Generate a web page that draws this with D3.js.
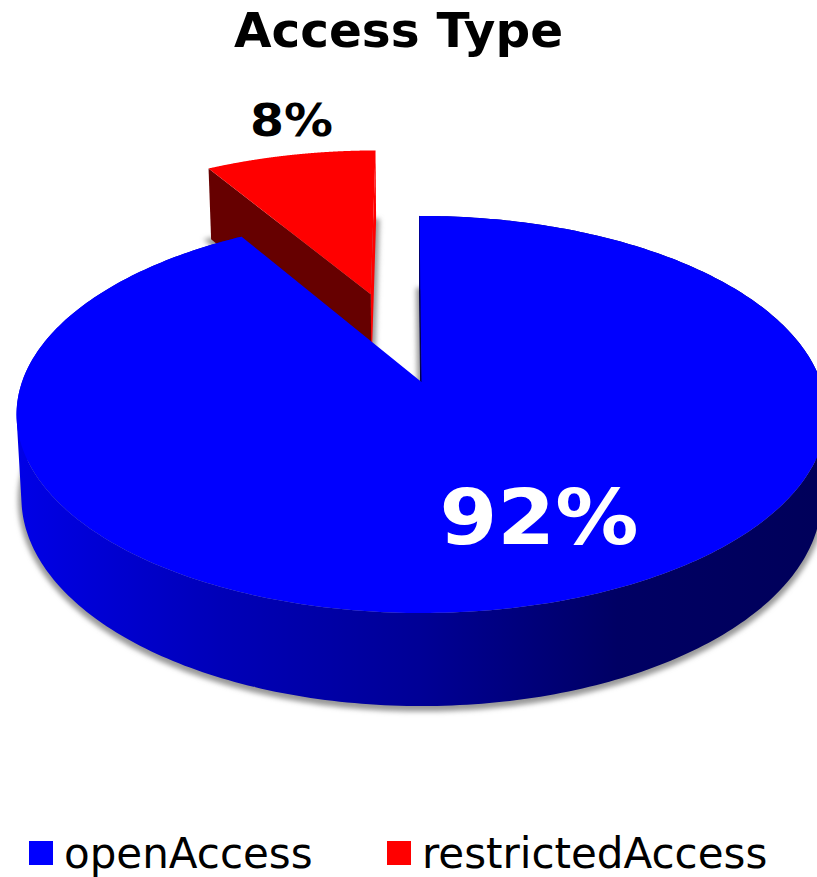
<!DOCTYPE html>
<html>
<head>
<meta charset="utf-8">
<title>Access Type</title>
<script src="https://cdn.jsdelivr.net/npm/d3@7"></script>
<style>
    html, body { margin: 0; padding: 0; background: #fff; overflow: hidden; }
    text { font-family: "DejaVu Sans", sans-serif; }
</style>
</head>
<body>
<div id="chart"></div>
<script>
const chartTitle = "Access Type";
const categories = ["openAccess", "restrictedAccess"];
const shares = [91.51, 8.49];
const sliceColors = ["#0000ff", "#ff0000"];

document.addEventListener("DOMContentLoaded", () => {
    renderPie3d();
});

function renderPie3d() {
    const width = 817;
    const height = 877;

    // perspective pie: the disc is tilted, so its near half is drawn larger
    const center = { x: 421.5, y: 382 };
    const radiusX = 399.5;
    const radiusY = 193.2;
    const tilt = 0.1637;
    const bottomScale = 0.988;
    const explode = 0.51;
    const rotation = -0.0058;

    const depthAt = (k) => 22.5 + 59 * k;

    const project = (px, py, bottom) => {
        const k = 1 / (1 - tilt * py);
        const s = bottom ? bottomScale : 1;
        return [
            center.x + radiusX * px * k * s,
            center.y + radiusY * py * k + (bottom ? depthAt(k) : 0)
        ];
    };

    const pie = d3.pie()
        .sort(null)
        .startAngle(rotation)
        .endAngle(2 * Math.PI + rotation);

    const slices = pie(shares).map((d, i) => {
        const mid = (d.startAngle + d.endAngle) / 2;
        const shift = i === 1 ? explode : 0;
        return {
            ...d,
            category: categories[i],
            color: sliceColors[i],
            ox: shift * Math.sin(mid),
            oy: -shift * Math.cos(mid)
        };
    });

    const rimPoints = (d, bottom) => d3.range(0, 361).map((j) => {
        const a = d.startAngle + (d.endAngle - d.startAngle) * j / 360;
        return project(d.ox + Math.sin(a), d.oy - Math.cos(a), bottom);
    });
    const apex = (d, bottom) => project(d.ox, d.oy, bottom);

    const line = d3.line();
    const sector = (d, bottom) => line([apex(d, bottom), ...rimPoints(d, bottom)]) + "Z";

    // one quad per rim step, all wound the same way so folds at the silhouette stay filled
    const outerWall = (d) => {
        const top = rimPoints(d, false);
        const low = rimPoints(d, true);
        return d3.range(0, top.length - 1).map((j) => {
            const quad = [top[j], top[j + 1], low[j + 1], low[j]];
            if (d3.polygonArea(quad) < 0) quad.reverse();
            return line(quad) + "Z";
        }).join("");
    };
    const edgeWall = (d, j) => {
        const rim = rimPoints(d, false);
        const rimLow = rimPoints(d, true);
        return line([apex(d, false), rim[j], rimLow[j], apex(d, true)]) + "Z";
    };

    const svg = d3.select("#chart").append("svg")
        .attr("width", width)
        .attr("height", height)
        .attr("viewBox", [0, 0, width, height])
        .style("display", "block");

    const defs = svg.append("defs");

    const blur = defs.append("filter")
        .attr("id", "soft-shadow")
        .attr("x", "-10%").attr("y", "-10%")
        .attr("width", "120%").attr("height", "120%");
    blur.append("feGaussianBlur").attr("stdDeviation", 2.5);

    const wallGradient = defs.append("linearGradient")
        .attr("id", "blue-wall")
        .attr("gradientUnits", "userSpaceOnUse")
        .attr("x1", 20).attr("x2", 817)
        .attr("y1", 0).attr("y2", 0);
    wallGradient.selectAll("stop")
        .data([
            ["0%", "#0000e6"],
            ["25%", "#0000b8"],
            ["50%", "#000096"],
            ["75%", "#000064"],
            ["100%", "#00005a"]
        ])
        .join("stop")
        .attr("offset", (d) => d[0])
        .attr("stop-color", (d) => d[1]);

    const blue = slices[0];
    const red = slices[1];

    // shadows sit behind everything
    svg.append("g")
        .attr("filter", "url(#soft-shadow)")
        .attr("transform", "translate(0, 2)")
        .selectAll("path")
        .data(slices)
        .join("path")
        .attr("fill", "#999")
        .attr("stroke", "#999")
        .attr("stroke-width", 7)
        .attr("d", (d) => sector(d, true));

    // red slice first, the big blue slice covers its lower part
    svg.append("path").attr("fill", "#ff0000").attr("d", edgeWall(red, 360));
    svg.append("path").attr("fill", "#660000").attr("d", edgeWall(red, 0));
    svg.append("path").attr("fill", red.color).attr("d", sector(red, false));

    svg.append("path").attr("fill", "#00004a").attr("d", edgeWall(blue, 0))
        .attr("stroke", "#00004a").attr("stroke-width", 1);
    svg.append("path").attr("fill", "url(#blue-wall)").attr("d", outerWall(blue));
    svg.append("path").attr("fill", blue.color).attr("d", sector(blue, false));

    svg.append("text")
        .attr("x", 398.5)
        .attr("y", 47)
        .attr("text-anchor", "middle")
        .attr("font-size", 48.5)
        .attr("font-weight", 700)
        .attr("fill", "#000")
        .text(chartTitle);

    const labelStyle = [
        { x: 539, y: 544, size: 76, span: 199, fill: "#fff" },
        { x: 291.5, y: 136, size: 45, span: 83, fill: "#000" }
    ];

    svg.append("g")
        .selectAll("text")
        .data(slices)
        .join("text")
        .attr("x", (d, i) => labelStyle[i].x)
        .attr("y", (d, i) => labelStyle[i].y)
        .attr("text-anchor", "middle")
        .attr("font-size", (d, i) => labelStyle[i].size)
        .attr("textLength", (d, i) => labelStyle[i].span)
        .attr("lengthAdjust", "spacingAndGlyphs")
        .attr("font-weight", 700)
        .attr("fill", (d, i) => labelStyle[i].fill)
        .text((d) => `${Math.round(d.data)}%`);

    const legendX = d3.scaleOrdinal().domain(categories).range([29, 387]);

    const legendItems = svg.append("g")
        .selectAll("g")
        .data(slices)
        .join("g")
        .attr("transform", (d) => `translate(${legendX(d.category)}, 841)`);

    legendItems.append("rect")
        .attr("width", 24)
        .attr("height", 24)
        .attr("fill", (d) => d.color);

    legendItems.append("text")
        .attr("x", 35)
        .attr("y", 27)
        .attr("font-size", 42)
        .attr("fill", "#000")
        .text((d) => d.category);
}
</script>
</body>
</html>
